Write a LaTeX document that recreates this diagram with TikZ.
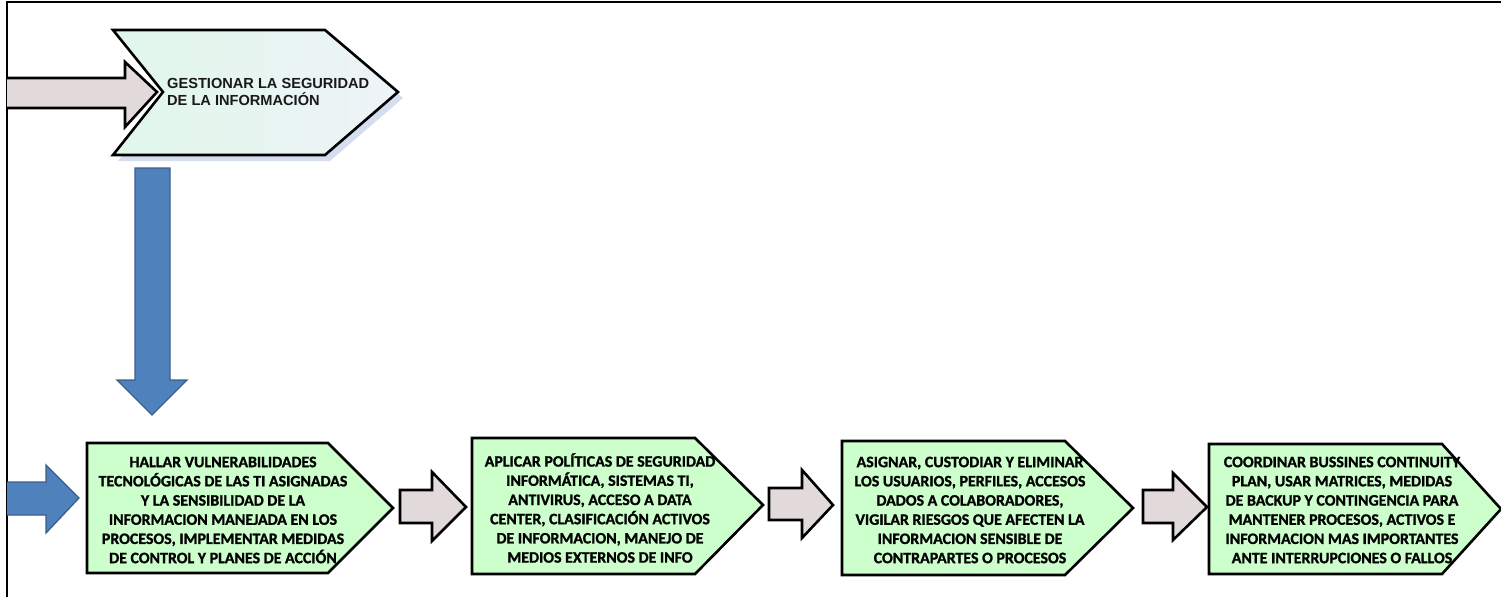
\documentclass[tikz,border=0pt]{standalone}
\usepackage{fontspec}
\newfontfamily\carlito{Carlito}[FakeBold=1.2]
\newfontfamily\arialf{Liberation Sans}
\definecolor{chevgreen}{HTML}{CCFFCC}
\definecolor{pinkfill}{HTML}{E2DADA}
\definecolor{bluefill}{HTML}{4F81BD}
\definecolor{blueline}{HTML}{3A5F8C}
\definecolor{topA}{HTML}{E0F7EA}
\definecolor{topB}{HTML}{EEF3F8}
\definecolor{shadowc}{HTML}{D5DEEF}
\tikzset{
  chev/.style={draw=black, line width=2.6pt, fill=chevgreen, line join=miter},
  pinkarrow/.style={draw=black, line width=2.6pt, fill=pinkfill, line join=miter},
  bluearrow/.style={draw=blueline, line width=1.3pt, fill=bluefill, line join=miter},
  btext/.style={font=\carlito\bfseries\fontsize{15.9}{19.2}\selectfont, align=center, inner sep=0pt},
  ttext/.style={font=\arialf\bfseries\fontsize{14.6}{17.6}\selectfont, align=left, inner sep=0pt, text=black!90},
}
\begin{document}
\begin{tikzpicture}[x=1pt,y=-1pt]
\useasboundingbox (0,0) rectangle (1501,597);
% frame
\draw[line width=1.5pt] (7,597) -- (7,2) -- (1501,2);
% top chevron
\fill[shadowc] (118,36) -- (330,36) -- (403,98) -- (330,161) -- (118,161) -- (168,98) -- cycle;
\path[draw=black, line width=2.6pt, line join=miter, left color=topA, right color=topB]
  (113,30) coordinate (t0a) -- (325,30) -- (398,92) coordinate (t0tip) -- (325,155) -- (113,155) -- (163,92) coordinate (t0notch) -- cycle;
\node[ttext, anchor=west] (t0) at (167,92) {GESTIONAR LA SEGURIDAD\\DE LA INFORMACIÓN};
% top-left pink arrow
\filldraw[pinkarrow] (7,78) -- (125,78) -- (125,62) -- (157,92) -- (125,127) -- (125,108) -- (7,108);
% blue down arrow
\filldraw[bluearrow] (135,168) -- (170,168) -- (170,380) -- (187,380) -- (152,415) -- (117,380) -- (135,380) -- cycle;
% blue right arrow
\filldraw[bluearrow] (7,482) -- (46,482) -- (46,465) -- (79,498) -- (46,533) -- (46,515) -- (7,515);
% pink arrows
\filldraw[pinkarrow] (400,490) -- (432,490) -- (432,472) -- (466,507) -- (432,541) -- (432,523) -- (400,523) -- cycle;
\filldraw[pinkarrow] (769,488) -- (802,488) -- (802,470) -- (833,505) -- (802,538) -- (802,520) -- (769,520) -- cycle;
\filldraw[pinkarrow] (1143,490) -- (1173,490) -- (1173,473) -- (1207,507) -- (1173,540) -- (1173,523) -- (1143,523) -- cycle;
% bottom chevrons
\filldraw[chev] (87,443) -- (328,443) -- (393,508) -- (328,573) -- (87,573) -- cycle;
\node[btext] (c1) at (223,510) {HALLAR VULNERABILIDADES\\TECNOLÓGICAS DE LAS TI ASIGNADAS\\Y LA SENSIBILIDAD DE LA\\INFORMACION MANEJADA EN LOS\\PROCESOS, IMPLEMENTAR MEDIDAS\\DE CONTROL Y PLANES DE ACCIÓN};
\filldraw[chev] (472,438) -- (695,438) -- (763,505) -- (695,574) -- (472,574) -- cycle;
\node[btext] (c2) at (600,508) {APLICAR POLÍTICAS DE SEGURIDAD\\INFORMÁTICA, SISTEMAS TI,\\ANTIVIRUS, ACCESO A DATA\\CENTER, CLASIFICACIÓN ACTIVOS\\DE INFORMACION, MANEJO DE\\MEDIOS EXTERNOS DE INFO};
\filldraw[chev] (842,441) -- (1065,441) -- (1133,508) -- (1065,575) -- (842,575) -- cycle;
\node[btext] (c3) at (970,510) {ASIGNAR, CUSTODIAR Y ELIMINAR\\LOS USUARIOS, PERFILES, ACCESOS\\DADOS A COLABORADORES,\\VIGILAR RIESGOS QUE AFECTEN LA\\INFORMACION SENSIBLE DE\\CONTRAPARTES O PROCESOS};
\filldraw[chev] (1209,444) -- (1442,444) -- (1501,509) -- (1442,574) -- (1209,574) -- cycle;
\node[btext] (c4) at (1342,510) {COORDINAR BUSSINES CONTINUITY\\PLAN, USAR MATRICES, MEDIDAS\\DE BACKUP Y CONTINGENCIA PARA\\MANTENER PROCESOS, ACTIVOS E\\INFORMACION MAS IMPORTANTES\\ANTE INTERRUPCIONES O FALLOS};
\end{tikzpicture}
\end{document}
